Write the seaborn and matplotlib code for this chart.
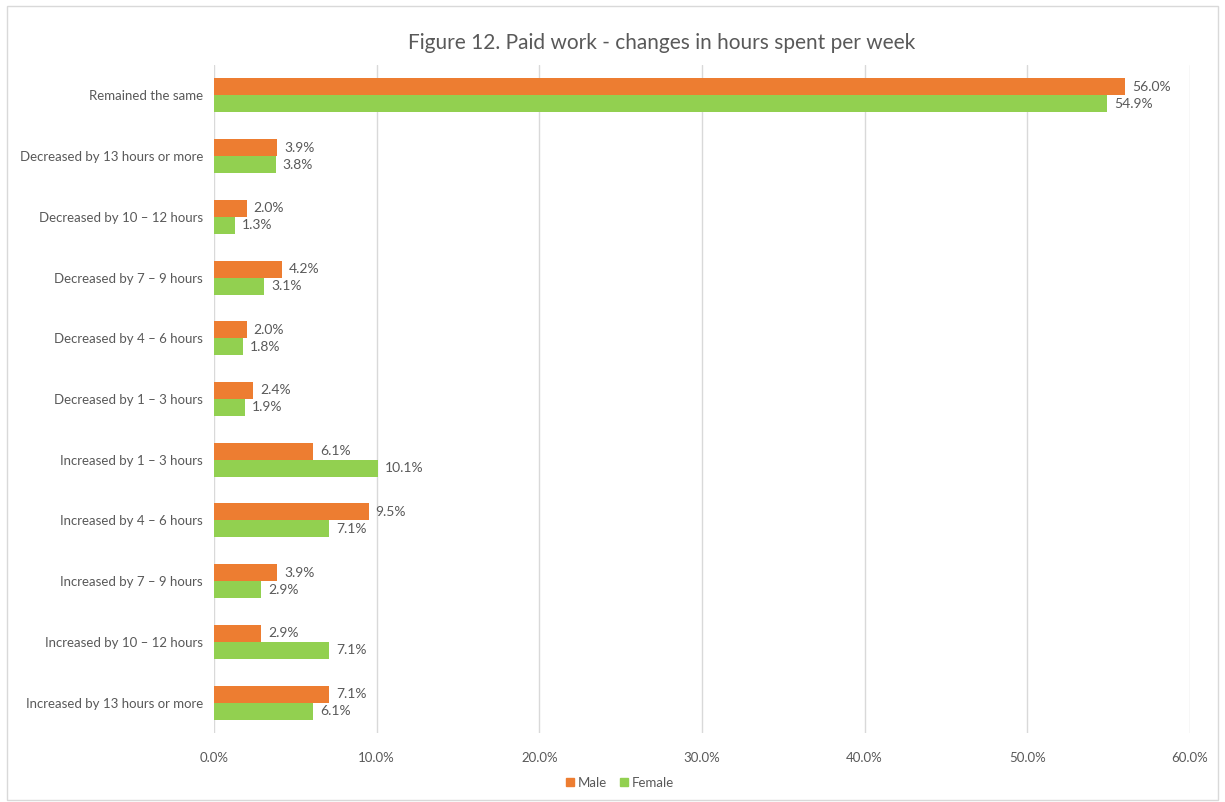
import matplotlib
matplotlib.use("Agg")
import matplotlib.pyplot as plt
from matplotlib.patches import Rectangle
from matplotlib.ticker import FuncFormatter
import seaborn as sns
import pandas as pd

categories = [
    "Remained the same",
    "Decreased by 13 hours or more",
    "Decreased by 10 \u2013 12 hours",
    "Decreased by 7 \u2013 9 hours",
    "Decreased by 4 \u2013 6 hours",
    "Decreased by 1 \u2013 3 hours",
    "Increased by 1 \u2013 3 hours",
    "Increased by 4 \u2013 6 hours",
    "Increased by 7 \u2013 9 hours",
    "Increased by 10 \u2013 12 hours",
    "Increased by 13 hours or more",
]
male = [56.0, 3.9, 2.0, 4.2, 2.0, 2.4, 6.1, 9.5, 3.9, 2.9, 7.1]
female = [54.9, 3.8, 1.3, 3.1, 1.8, 1.9, 10.1, 7.1, 2.9, 7.1, 6.1]
series = ["Male", "Female"]
x_ticks = [0, 10, 20, 30, 40, 50, 60]

df = pd.DataFrame({
    "category": categories * 2,
    "value": male + female,
    "sex": [series[0]] * len(male) + [series[1]] * len(female),
})

sns.set_theme(style="white")
plt.rcParams["font.family"] = ["Lato", "DejaVu Sans"]

text_color = "#595959"
palette = {"Male": "#ED7D31", "Female": "#92D050"}

fig = plt.figure(figsize=(12.25, 8.02), dpi=100)
ax = fig.add_axes([0.1747, 0.086, 0.7967, 0.833])

sns.barplot(data=df, y="category", x="value", hue="sex", orient="h",
            order=categories, hue_order=series, palette=palette,
            width=0.56, saturation=1, linewidth=0, ax=ax, legend=False)

for container in ax.containers:
    ax.bar_label(container, labels=[f"{v:.1f}%" for v in container.datavalues],
                 padding=5, fontsize=10, color=text_color)

ax.set_xlim(0, 60)
ax.set_xticks(x_ticks)
ax.xaxis.set_major_formatter(FuncFormatter(lambda v, _: f"{v:.1f}%"))
ax.set_xlabel("")
ax.set_ylabel("")
ax.grid(axis="x", color="#D9D9D9", linewidth=1)
ax.grid(axis="y", visible=False)
ax.set_axisbelow(True)
for s in ax.spines.values():
    s.set_visible(False)
ax.tick_params(axis="both", length=0, labelsize=9.5, labelcolor=text_color)
ax.tick_params(axis="x", pad=14)
ax.tick_params(axis="y", pad=8)

fig.text(0.54, 0.947, "Figure 12. Paid work - changes in hours spent per week",
         ha="center", va="center", fontsize=15, color=text_color)

handles = [Rectangle((0, 0), 1, 1, color=palette[s]) for s in series]
fig.legend(handles, series, loc="center", bbox_to_anchor=(0.506, 0.024),
           ncol=2, frameon=False, fontsize=9.5, labelcolor=text_color,
           handlelength=0.6, handleheight=0.6, handletextpad=0.3,
           columnspacing=1.0)

fig.patches.append(Rectangle((0.006, 0.002), 0.988, 0.99, transform=fig.transFigure,
                             fill=False, edgecolor="#D9D9D9", linewidth=1))

fig.savefig("out.png", dpi=100)
